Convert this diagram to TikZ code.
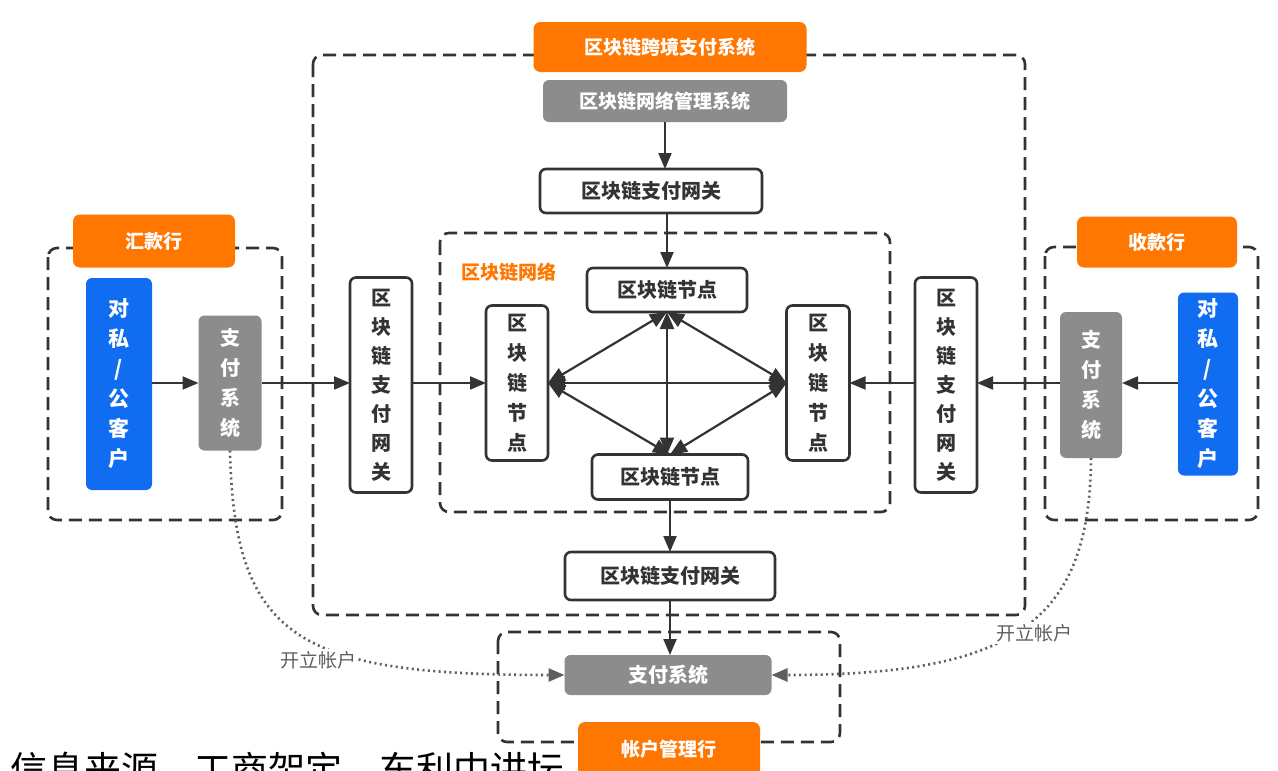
\documentclass[tikz,border=0pt]{standalone}
\usepackage{fontspec}
\setmainfont{Noto Sans CJK SC}
\usetikzlibrary{arrows.meta,calc}
\definecolor{dk}{RGB}{51,51,51}
\definecolor{orangec}{RGB}{255,118,0}
\definecolor{grayc}{RGB}{140,140,140}
\definecolor{bluec}{RGB}{16,108,240}
\definecolor{dotc}{RGB}{95,95,95}
\begin{document}
\begin{tikzpicture}[x=1pt,y=-1pt,
  every node/.style={inner sep=0pt,outer sep=0pt,align=center},
  whitebox/.style={draw=dk,line width=2.6pt,rounded corners=6pt,fill=white,text=dk,font=\fontsize{20}{30}\selectfont\bfseries},
  graybox/.style={fill=grayc,rounded corners=6pt,text=white,font=\fontsize{20}{30}\selectfont\bfseries},
  bluebox/.style={fill=bluec,rounded corners=6pt,text=white,font=\fontsize{21}{30}\selectfont\bfseries},
  orangebox/.style={fill=orangec,rounded corners=7pt,text=white,font=\fontsize{19}{24}\selectfont\bfseries},
  dashbox/.style={draw=dk,line width=2.6pt,dash pattern=on 13pt off 7pt,rounded corners=9pt},
  arr/.style={draw=dk,line width=2.2pt,-{Triangle[length=16pt,width=13pt]}},
  darr/.style={draw=dk,line width=2.2pt,{Triangle[length=17pt,width=14pt]}-{Triangle[length=17pt,width=14pt]}},
  dotarr/.style={draw=dotc,line width=2.6pt,dash pattern=on 2pt off 3.4pt,-{Triangle[length=16pt,width=13pt]}},
  note/.style={fill=white,text=dotc,font=\fontsize{19}{22}\selectfont,inner sep=2pt}]
\useasboundingbox (0,0) rectangle (1278,771);
\fill[white] (0,0) rectangle (1278,771);

% source line along the lower edge
\node[anchor=north west,text=black,font=\fontsize{37}{40}\selectfont] (src) at (10,752) {信息来源，工商架定，东利中讲坛};

% dashed frames
\draw[dashbox] (313,55) rectangle (1025,615);
\draw[dashbox] (440,233) rectangle (890,512);
\draw[dashbox] (48,248) rectangle (282,520);
\draw[dashbox] (1045,247) rectangle (1258,520);
\draw[dashbox] (498,632) rectangle (840,742);

% frame titles
\node[orangebox,minimum width=273pt,minimum height=50pt] (ttl) at (670,47) {区块链跨境支付系统};
\node[orangebox,minimum width=162pt,minimum height=53pt] (remit) at (154,241) {汇款行};
\node[orangebox,minimum width=160pt,minimum height=51pt] (recv) at (1157,242) {收款行};
\node[orangebox,minimum width=182pt,minimum height=54pt] (acct) at (669,749) {帐户管理行};
\node[text=orangec,font=\fontsize{19}{22}\selectfont\bfseries] (netlbl) at (509,272) {区块链网络};

% management and gateways
\node[graybox,minimum width=244pt,minimum height=42pt,font=\fontsize{19}{24}\selectfont\bfseries] (mgmt) at (665,101) {区块链网络管理系统};
\node[whitebox,minimum width=222pt,minimum height=44pt] (gwT) at (651,191) {区块链支付网关};
\node[whitebox,minimum width=210pt,minimum height=48pt] (gwB) at (670,576) {区块链支付网关};
\node[whitebox,minimum width=62pt,minimum height=215pt,font=\fontsize{20}{29}\selectfont\bfseries] (gwL) at (381,385) {区\\块\\链\\支\\付\\网\\关};
\node[whitebox,minimum width=62pt,minimum height=215pt,font=\fontsize{20}{29}\selectfont\bfseries] (gwR) at (946,385) {区\\块\\链\\支\\付\\网\\关};

% blockchain nodes
\node[whitebox,minimum width=160pt,minimum height=44pt] (nT) at (667,290) {区块链节点};
\node[whitebox,minimum width=156pt,minimum height=45pt] (nB) at (670,477) {区块链节点};
\node[whitebox,minimum width=62pt,minimum height=155pt] (nL) at (517,383) {区\\块\\链\\节\\点};
\node[whitebox,minimum width=63pt,minimum height=155pt] (nR) at (818,383) {区\\块\\链\\节\\点};

% banks
\node[bluebox,minimum width=66pt,minimum height=212pt] (custL) at (119,384) {对\\私\\/\\公\\客\\户};
\node[graybox,minimum width=63pt,minimum height=135pt] (payL) at (230,383) {支\\付\\系\\统};
\node[bluebox,minimum width=60pt,minimum height=183pt] (custR) at (1208,384) {对\\私\\/\\公\\客\\户};
\node[graybox,minimum width=62pt,minimum height=146pt] (payR) at (1091,385) {支\\付\\系\\统};
\node[graybox,minimum width=207pt,minimum height=40pt] (payB) at (668,675) {支付系统};

% flows
\draw[arr] (custL.east |- 0,383) -- (payL.west |- 0,383);
\draw[arr] (payL.east |- 0,383) -- (gwL.west |- 0,383);
\draw[arr] (gwL.east |- 0,383) -- (nL.west);
\draw[arr] (custR.west |- 0,383) -- (payR.east |- 0,383);
\draw[arr] (payR.west |- 0,383) -- (gwR.east |- 0,383);
\draw[arr] (gwR.west |- 0,383) -- (nR.east);
\draw[arr] (mgmt.south) -- (mgmt.south |- gwT.north);
\draw[arr] (nT.north |- gwT.south) -- (nT.north);
\draw[arr] (nB.south) -- (gwB.north);
\draw[arr] (gwB.south) -- (gwB.south |- payB.north);

% links inside the network
\draw[darr] (nL.east) -- (nR.west);
\draw[darr] (nT.south) -- (nT.south |- nB.north);
\draw[darr] (nL.east) -- (nT.south);
\draw[darr] (nL.east) -- (nB.north);
\draw[darr] (nR.west) -- (nT.south);
\draw[darr] (nR.west) -- (nB.north);

% account opening
\draw[dotarr] (payL.south) .. controls (234,640) and (300,675) .. (payB.west);
\draw[dotarr] (payR.south) .. controls (1090,625) and (1010,675) .. (payB.east);
\node[note] (openL) at (318,660) {开立帐户};
\node[note] (openR) at (1034,633) {开立帐户};
\end{tikzpicture}
\end{document}
